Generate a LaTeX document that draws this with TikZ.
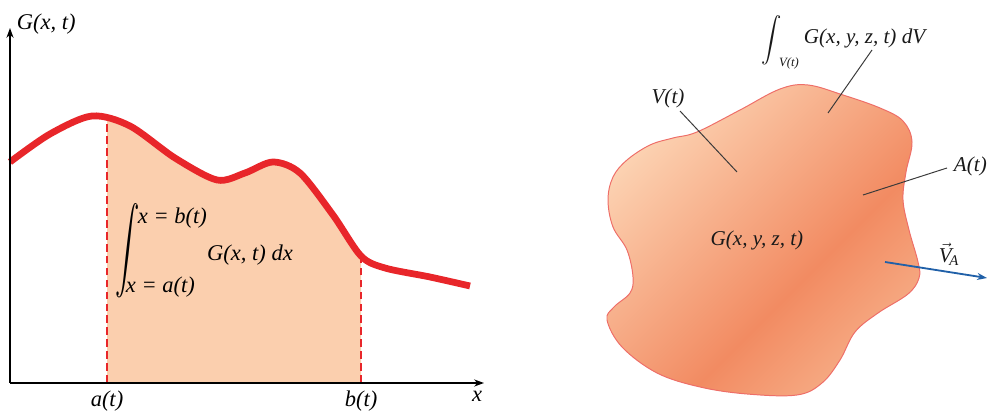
\documentclass[tikz,border=0pt]{standalone}
\usepackage{amsmath}
\usepackage{fontspec}
\setmainfont{Liberation Serif}
\usepackage{tikz}
\usetikzlibrary{arrows.meta}
\usetikzlibrary{positioning}

\definecolor{curvered}{HTML}{E8262A}
\definecolor{areafill}{HTML}{FBCFAE}
\definecolor{blobedge}{HTML}{EE6E68}
\definecolor{blobLight}{HTML}{FCD3B3}
\definecolor{blobDark}{HTML}{F28B62}
\definecolor{blobMid}{HTML}{F6AC85}
\definecolor{leadgray}{HTML}{3A3A3A}
\definecolor{arrowblue}{HTML}{2060A8}

\pgfdeclareverticalshading{blobshade}{100bp}{color(0bp)=(blobMid); color(25bp)=(blobMid); color(41bp)=(blobDark); color(75bp)=(blobLight); color(100bp)=(blobLight)}

\newcommand{\tallint}[1]{\scalebox{1}[#1]{$\displaystyle\int$}}

\begin{document}
\begin{tikzpicture}[x=0.025cm,y=0.025cm,
    axis/.style={line width=1.3pt,-{Stealth[length=7pt,width=5pt]}},
    limitline/.style={curvered,line width=0.9pt,dash pattern=on 5.5pt off 3pt},
    leader/.style={leadgray,line width=0.7pt},
    bigl/.style={font=\fontsize{16}{18}\selectfont\itshape},
    smalll/.style={font=\fontsize{15}{17}\selectfont\itshape,text=black!90}]
    \useasboundingbox (0,0) rectangle (987,-411);

    % left: G(x,t) along x
    \coordinate (origin) at (10,-383);
    \coordinate (ytip) at (10,-28);
    \coordinate (xtip) at (484,-383);
    \coordinate (atop) at (107,-114);
    \coordinate (abot) at (107,-383);
    \coordinate (btop) at (361,-252);
    \coordinate (bbot) at (361,-383);

    \begin{scope}
        \clip (107,-90) rectangle (361,-383);
        \fill[areafill] plot[smooth] coordinates {(10,-162) (50,-134) (92,-116) (130,-126) (175,-158) (217,-180) (245,-173) (273,-162) (300,-173) (333,-215) (361,-256) (385,-268) (430,-277) (470,-286)} -- (470,-383) -- (10,-383) -- cycle;
    \end{scope}
    \draw[limitline] (abot) -- (atop);
    \draw[limitline] (bbot) -- (btop);
    \draw[curvered,line width=4.8pt] plot[smooth] coordinates {(10,-162) (50,-134) (92,-116) (130,-126) (175,-158) (217,-180) (245,-173) (273,-162) (300,-173) (333,-215) (361,-256) (385,-268) (430,-277) (470,-286)};
    \draw[axis] (origin) -- (ytip);
    \draw[axis] (origin) -- (xtip);

    \node[bigl,anchor=west] (gxt) at (12,-24) {G(x, t)};
    \node[bigl] (xlab) at (477,-396) {x};
    \node[bigl] (alab) at (107,-401) {a(t)};
    \node[bigl] (blab) at (361,-401) {b(t)};
    \node[bigl] (intA) at (128,-251) {\tallint{1.75}};
    \node[bigl,anchor=west] (upper) at (133,-218) {x = b(t)};
    \node[bigl,anchor=west] (lower) at (121,-287) {x = a(t)};
    \node[bigl] (integrand) at (250,-255) {G(x, t) dx};

    % right: control volume
    \shade[draw=blobedge,line width=0.7pt,shading=blobshade,shading angle=45] plot[smooth cycle,tension=0.6] coordinates {(697,-132) (740,-110) (780,-89) (808,-85) (843,-95) (880,-108) (903,-121) (912,-142) (906,-172) (903,-200) (909,-230) (918,-262) (919,-278) (908,-294) (878,-313) (855,-332) (840,-360) (822,-383) (797,-395) (747,-394) (700,-387) (657,-373) (622,-347) (607,-320) (614,-307) (630,-293) (633,-277) (627,-250) (613,-227) (608,-200) (613,-177) (627,-160) (650,-145) (673,-138)};

    \node[smalll,inner sep=0pt] (intV) at (772,-40) {\tallint{1.1}};
    \node[font=\fontsize{9}{10}\selectfont\itshape,text=black!90] (vsub) at (789,-63) {V(t)};
    \node[smalll,anchor=west] (volint) at (799,-38) {G(x, y, z, t) dV};
    \node[smalll] (vlab) at (668,-98) {V(t)};
    \node[smalll,anchor=west] (alabr) at (949,-166) {A(t)};
    \node[smalll] (gfield) at (757,-240) {G(x, y, z, t)};
    \node[smalll] (va) at (949,-254) {$\vec{\text{\itshape V}}_{\!\text{\itshape A}}$};

    \coordinate (volend) at (828,-113);
    \coordinate (vend) at (737,-172);
    \coordinate (aend) at (863,-195);
    \coordinate (vstart) at (885,-262);
    \coordinate (vtip) at (987,-278);

    \draw[leader] (872,-50) -- (volend);
    \draw[leader] (680,-111) -- (vend);
    \draw[leader] (947,-168) -- (aend);
    \draw[arrowblue,line width=1.3pt,-{Stealth[length=7pt,width=5pt]}] (vstart) -- (vtip);
\end{tikzpicture}
\end{document}
